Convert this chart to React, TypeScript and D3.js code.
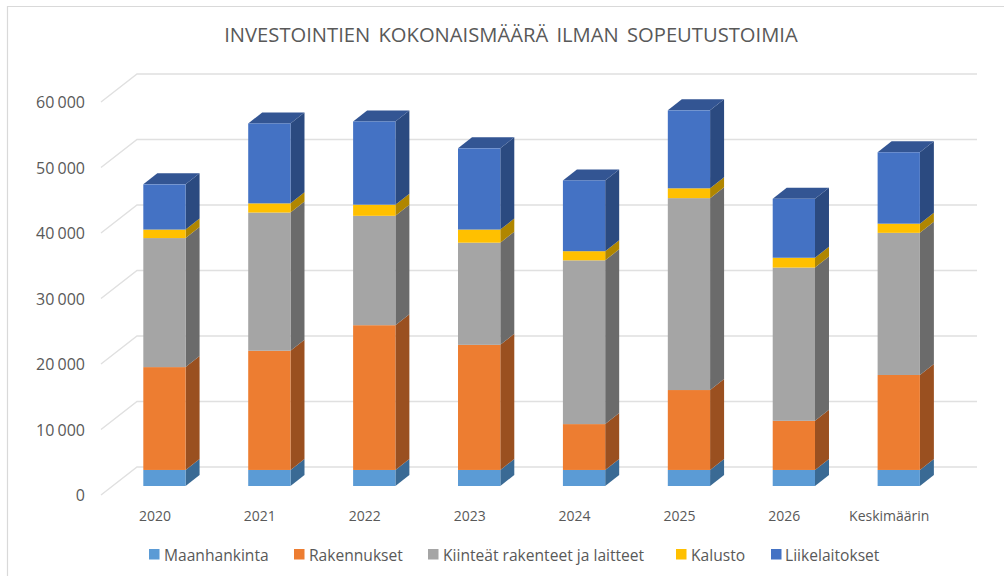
import * as d3 from 'd3';

const years = ['2020', '2021', '2022', '2023', '2024', '2025', '2026', 'Keskimäärin'];
const seriesNames = ['Maanhankinta', 'Rakennukset', 'Kiinteät rakenteet ja laitteet', 'Kalusto', 'Liikelaitokset'];
const maanhankinta = [2450, 2450, 2450, 2450, 2450, 2450, 2450, 2450];
const rakennukset = [15700, 18200, 22100, 19100, 7000, 12200, 7500, 14500];
const kiinteat = [19700, 21100, 16700, 15600, 25000, 29300, 23400, 21700];
const kalusto = [1300, 1400, 1700, 2000, 1400, 1500, 1500, 1400];
const liikelaitokset = [6900, 12200, 12700, 12400, 10800, 11900, 9000, 10900];
const yTicks = [0, 10000, 20000, 30000, 40000, 50000, 60000];

const frontColors = ['#5b9bd5', '#ed7d31', '#a5a5a5', '#ffc000', '#4472c4'];
const sideColors = ['#3a6a94', '#9a5020', '#6b6b6b', '#b08600', '#2b4a80'];
const topColor = '#335593';

const FONT = '"Open Sans", "Noto Sans", sans-serif';
const TEXT = '#595959';
const GRID = '#e0e0e0';
// 3d offset of the bar depth and of the wall
const dx = 14;
const dy = -11;

const x = d3.scaleBand<string>().domain(years).range([112, 951.2]).paddingInner(0.597).paddingOuter(0.2985);
// y scale for the plane the bars stand on
const y = d3.scaleLinear().domain([0, 60000]).range([486, 93]);
const fmt = (v: number) => (v === 0 ? '0' : `${v / 1000} 000`);

const stacked = d3
  .stack<number>()
  .keys(d3.range(seriesNames.length).map(String))
  .value((i, key) => [maanhankinta, rakennukset, kiinteat, kalusto, liikelaitokset][+key][i])(years.map((_, i) => i));

const legendX = [149, 294, 428, 676, 771];

export default function App() {
  const path = d3.path;
  const side = (x0: number, y0: number, y1: number) => {
    const p = path();
    p.moveTo(x0, y0);
    p.lineTo(x0 + dx, y0 + dy);
    p.lineTo(x0 + dx, y1 + dy);
    p.lineTo(x0, y1);
    p.closePath();
    return p.toString();
  };
  const top = (x0: number, w: number, y0: number) => {
    const p = path();
    p.moveTo(x0, y0);
    p.lineTo(x0 + dx, y0 + dy);
    p.lineTo(x0 + w + dx, y0 + dy);
    p.lineTo(x0 + w, y0);
    p.closePath();
    return p.toString();
  };
  const bw = x.bandwidth();
  return (
    <svg
      width={1004}
      height={576}
      style={{ position: 'absolute', left: 0, top: 0, background: '#fff' }}
      fontFamily={FONT}
    >
      <path d="M7.5,576V6.5H1004" fill="none" stroke="#d9d9d9" strokeWidth={1.2} />
      <text x={511} y={42} textAnchor="middle" fontSize={20.2} fill={TEXT} wordSpacing={3}>
        INVESTOINTIEN KOKONAISMÄÄRÄ ILMAN SOPEUTUSTOIMIA
      </text>

      {yTicks.map(t => (
        <g key={t}>
          <path
            d={`M101,${y(t) + 9}L137,${y(t) - 19}L977,${y(t) - 19}`}
            fill="none"
            stroke={GRID}
            strokeWidth={1.4}
          />
          <text x={85} y={y(t) + 15} textAnchor="end" fontSize={16} fill={TEXT} wordSpacing={-1}>
            {fmt(t)}
          </text>
        </g>
      ))}

      {years.map((c, i) => (
        <g key={c}>
          {stacked.map((s, k) => {
            const x0 = x(c)! + bw;
            return <path key={k} d={side(x0, y(s[i][0]), y(s[i][1]))} fill={sideColors[k]} />;
          })}
          <path d={top(x(c)!, bw, y(stacked[4][i][1]))} fill={topColor} />
          {stacked.map((s, k) => (
            <rect
              key={k}
              x={x(c)!}
              y={y(s[i][1])}
              width={bw}
              height={y(s[i][0]) - y(s[i][1])}
              fill={frontColors[k]}
            />
          ))}
          <text x={x(c)! + bw / 2 - 9.5} y={521} textAnchor="middle" fontSize={14} fill={TEXT}>
            {c}
          </text>
        </g>
      ))}

      {seriesNames.map((n, k) => (
        <g key={n}>
          <rect x={legendX[k]} y={549} width={10.5} height={10.5} fill={frontColors[k]} />
          <text x={legendX[k] + (k === 4 ? 14 : 15)} y={560.5} fontSize={15.6} fill={TEXT}>
            {n}
          </text>
        </g>
      ))}
    </svg>
  );
}
